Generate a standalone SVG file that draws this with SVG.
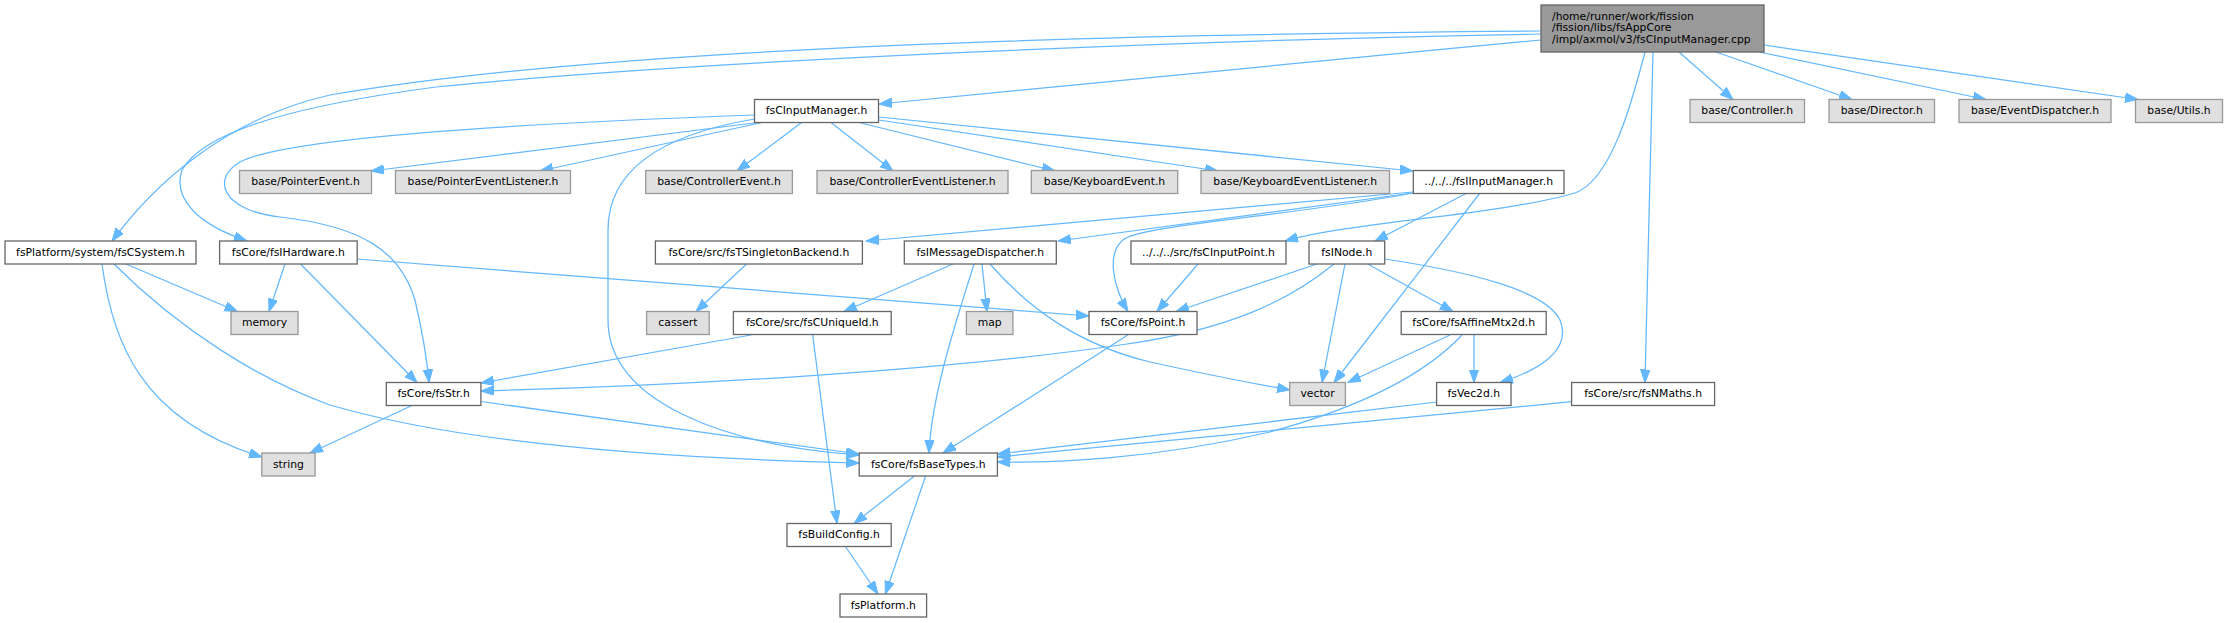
<svg xmlns="http://www.w3.org/2000/svg" width="2228" height="623" viewBox="0 0 2228 623">
<style>
.n rect{fill:#ffffff;stroke:#666666;stroke-width:1.3}
.g rect{fill:#e0e0e0;stroke:#999999;stroke-width:1.3}
.t rect{fill:#999999;stroke:#666666;stroke-width:1.3}
text{font-family:"DejaVu Sans","Liberation Sans",sans-serif;font-size:10.8px;fill:#000000}
.n text,.g text{text-anchor:middle}
#edges path{fill:none;stroke:#63b8ff;stroke-width:1.25;marker-end:url(#ah)}
</style>
<defs>
<marker id="ah" markerUnits="userSpaceOnUse" markerWidth="14" markerHeight="11" refX="13" refY="4.75" orient="auto">
<path d="M0,0 L13,4.75 L0,9.5 z" fill="#63b8ff" stroke="#63b8ff" stroke-width="1"/>
</marker>
</defs>
<rect width="2228" height="623" fill="#ffffff"/>
<g id="edges">
<path d="M1541,40 C1300,62 1050,88 879,104"/>
<path d="M1541,31 C1150,34 620,45 330,95 C220,120 150,190 112,241"/>
<path d="M1541,34 C1200,40 700,60 436,87 C300,105 205,130 182,170 C172,200 200,225 247,241"/>
<path d="M1645,52 C1630,110 1610,180 1575,193 C1500,215 1350,222 1285,241"/>
<path d="M1653,52 L1645,382.5"/>
<path d="M1679,52 L1733,99.5"/>
<path d="M1716,52 L1852,99.5"/>
<path d="M1759,52 L1986,99.5"/>
<path d="M1764,45 L2138,99.5"/>
<path d="M758,122.5 L371,171"/>
<path d="M762,122.5 L540,171"/>
<path d="M801.6,122.5 L737,171"/>
<path d="M831,122.5 L893,171"/>
<path d="M859,122.5 L1055,171"/>
<path d="M878.6,120 L1218,171"/>
<path d="M878.6,117 L1413,171"/>
<path d="M754.5,115 C560,122 290,135 240,162 C212,178 220,210 280,217 C360,226 400,250 415,300 C422,330 427,360 429,382.5"/>
<path d="M754.5,119 C660,135 608,170 608,230 L608,320 C608,400 720,445 859,455"/>
<path d="M114,264 C180,330 260,380 330,405 C450,440 640,458 859,463"/>
<path d="M102,264 C112,340 140,420 262,457"/>
<path d="M126,264 L237.5,311.5"/>
<path d="M285,264 L269,311.5"/>
<path d="M300.5,264 L417,382.5"/>
<path d="M357,259 L1089,316"/>
<path d="M412,405.5 L310,453"/>
<path d="M481,401.5 L859,454"/>
<path d="M746.5,264 L696,311.5"/>
<path d="M751,335 L481,383"/>
<path d="M1334,264 C1290,300 1230,330 1120,345 C950,370 700,385 481,391"/>
<path d="M1317,264 L1176,311.5"/>
<path d="M1345,264 L1322,382.5"/>
<path d="M1367.7,264 L1453,311.5"/>
<path d="M1385,259 C1470,272 1545,290 1560,320 C1572,350 1540,370 1500,382.5"/>
<path d="M953,264 L844,311.5"/>
<path d="M982,264 L987,311.5"/>
<path d="M974,264 C960,310 932,390 929,453"/>
<path d="M990,264 C1030,310 1080,345 1150,362 C1200,373 1250,383 1290,390"/>
<path d="M1198,264 L1157,311.5"/>
<path d="M1413,192 L866,241"/>
<path d="M1413,193 L1058,241"/>
<path d="M1413,193 C1300,215 1140,225 1123,240 C1105,255 1115,290 1128,311.5"/>
<path d="M1467,193 L1375,241"/>
<path d="M1480,193 L1334,382.5"/>
<path d="M1450,335 L1348,382.5"/>
<path d="M1474,335 L1474,382.5"/>
<path d="M1462,335 C1420,380 1350,410 1270,432 C1150,460 1050,463 997.4,462"/>
<path d="M1437,402 L997.4,454"/>
<path d="M1571.6,401.7 L997.4,457"/>
<path d="M1127.8,335 L943,453"/>
<path d="M812.7,335 L837,523.5"/>
<path d="M914.5,476 L854,523.5"/>
<path d="M925.6,476 L885.4,594"/>
<path d="M845.7,547 L878,594"/>
</g>
<g id="n_top" class="t"><rect x="1541" y="5" width="223" height="47"/><text x="1552" y="19.5">/home/runner/work/fission</text><text x="1552" y="31.2">/fission/libs/fsAppCore</text><text x="1552" y="42.9">/impl/axmol/v3/fsCInputManager.cpp</text></g>
<g id="n_cim" class="n"><rect x="754.5" y="99.5" width="124" height="23"/><text x="816.5" y="114">fsCInputManager.h</text></g>
<g id="n_ctrl" class="g"><rect x="1690" y="99.5" width="114.5" height="23"/><text x="1747.25" y="114">base/Controller.h</text></g>
<g id="n_dir" class="g"><rect x="1829" y="99.5" width="105.5" height="23"/><text x="1881.75" y="114">base/Director.h</text></g>
<g id="n_evd" class="g"><rect x="1959" y="99.5" width="152" height="23"/><text x="2035" y="114">base/EventDispatcher.h</text></g>
<g id="n_utils" class="g"><rect x="2135.5" y="99.5" width="87" height="23"/><text x="2179" y="114">base/Utils.h</text></g>
<g id="n_pe" class="g"><rect x="239.5" y="170.5" width="132" height="23"/><text x="305.5" y="185">base/PointerEvent.h</text></g>
<g id="n_pel" class="g"><rect x="395.5" y="170.5" width="175" height="23"/><text x="483" y="185">base/PointerEventListener.h</text></g>
<g id="n_ce" class="g"><rect x="645.7" y="170.5" width="146.7" height="23"/><text x="719" y="185">base/ControllerEvent.h</text></g>
<g id="n_cel" class="g"><rect x="817" y="170.5" width="191" height="23"/><text x="912.5" y="185">base/ControllerEventListener.h</text></g>
<g id="n_ke" class="g"><rect x="1031.3" y="170.5" width="146.4" height="23"/><text x="1104.5" y="185">base/KeyboardEvent.h</text></g>
<g id="n_kel" class="g"><rect x="1201" y="170.5" width="188.5" height="23"/><text x="1295.25" y="185">base/KeyboardEventListener.h</text></g>
<g id="n_iim" class="n"><rect x="1413.3" y="170.5" width="150.7" height="23"/><text x="1488.65" y="185">../../../fsIInputManager.h</text></g>
<g id="n_csys" class="n"><rect x="5" y="241" width="191" height="23"/><text x="100.5" y="255.5">fsPlatform/system/fsCSystem.h</text></g>
<g id="n_ihw" class="n"><rect x="219.6" y="241" width="137.6" height="23"/><text x="288.4" y="255.5">fsCore/fsIHardware.h</text></g>
<g id="n_tsb" class="n"><rect x="655.4" y="241" width="207" height="23"/><text x="758.9" y="255.5">fsCore/src/fsTSingletonBackend.h</text></g>
<g id="n_imd" class="n"><rect x="904.3" y="241" width="152" height="23"/><text x="980.3" y="255.5">fsIMessageDispatcher.h</text></g>
<g id="n_cip" class="n"><rect x="1131" y="241" width="155" height="23"/><text x="1208.5" y="255.5">../../../src/fsCInputPoint.h</text></g>
<g id="n_inode" class="n"><rect x="1309" y="241" width="75.7" height="23"/><text x="1346.85" y="255.5">fsINode.h</text></g>
<g id="n_memory" class="g"><rect x="231" y="311.5" width="67" height="23"/><text x="264.5" y="326">memory</text></g>
<g id="n_cassert" class="g"><rect x="646.6" y="311.5" width="62.6" height="23"/><text x="677.9" y="326">cassert</text></g>
<g id="n_uid" class="n"><rect x="733.4" y="311.5" width="157.8" height="23"/><text x="812.3" y="326">fsCore/src/fsCUniqueId.h</text></g>
<g id="n_map" class="g"><rect x="966.4" y="311.5" width="46.5" height="23"/><text x="989.65" y="326">map</text></g>
<g id="n_point" class="n"><rect x="1089" y="311.5" width="108" height="23"/><text x="1143" y="326">fsCore/fsPoint.h</text></g>
<g id="n_aff" class="n"><rect x="1401.2" y="311.5" width="145" height="23"/><text x="1473.7" y="326">fsCore/fsAffineMtx2d.h</text></g>
<g id="n_str" class="n"><rect x="386.3" y="382.5" width="94.6" height="23"/><text x="433.6" y="397">fsCore/fsStr.h</text></g>
<g id="n_vector" class="g"><rect x="1289.7" y="382.5" width="55.7" height="23"/><text x="1317.55" y="397">vector</text></g>
<g id="n_vec2d" class="n"><rect x="1436.6" y="382.5" width="74.4" height="23"/><text x="1473.8" y="397">fsVec2d.h</text></g>
<g id="n_nmaths" class="n"><rect x="1571.6" y="382.5" width="143" height="23"/><text x="1643.1" y="397">fsCore/src/fsNMaths.h</text></g>
<g id="n_string" class="g"><rect x="261.8" y="453" width="53.3" height="23"/><text x="288.45" y="467.5">string</text></g>
<g id="n_base" class="n"><rect x="859.2" y="453" width="138.2" height="23"/><text x="928.3" y="467.5">fsCore/fsBaseTypes.h</text></g>
<g id="n_bcfg" class="n"><rect x="787" y="523.5" width="104.2" height="23"/><text x="839.1" y="538">fsBuildConfig.h</text></g>
<g id="n_plat" class="n"><rect x="840" y="594" width="86.6" height="23"/><text x="883.3" y="608.5">fsPlatform.h</text></g>
</svg>
